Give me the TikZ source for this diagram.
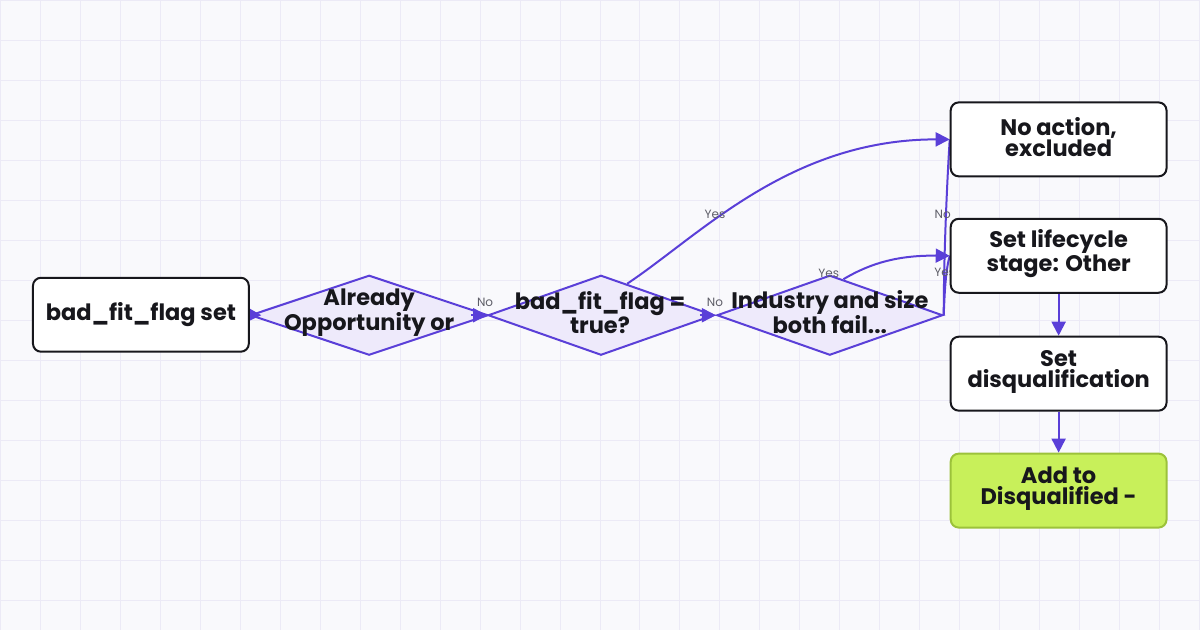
\documentclass[tikz,border=0pt]{standalone}
\usepackage{fontspec}
\setmainfont{Poppins}
\usetikzlibrary{shapes.geometric,arrows.meta,calc}
\definecolor{bgc}{HTML}{F9F9FC}
\definecolor{gridc}{HTML}{ECEAF6}
\definecolor{edgec}{HTML}{5A3FD8}
\definecolor{dfill}{HTML}{EEEAFB}
\definecolor{inkc}{HTML}{17171C}
\definecolor{greenf}{HTML}{C8F05A}
\definecolor{greend}{HTML}{9CC23A}
\definecolor{lblc}{HTML}{5E5E68}
\pgfdeclarelayer{gridlayer}
\pgfdeclarelayer{shapelayer}
\pgfdeclarelayer{edgelayer}
\pgfsetlayers{gridlayer,shapelayer,edgelayer,main}
\tikzset{
  boxnode/.style={draw=inkc, line width=2pt, fill=white, rounded corners=8pt, minimum width=216pt, minimum height=74pt, inner sep=0pt},
  greennode/.style={boxnode, draw=greend, fill=greenf},
  decnode/.style={shape=diamond, draw=edgec, fill=dfill, line width=2pt, inner sep=0pt, minimum height=80pt},
  txt/.style={font=\fontsize{22.5}{21}\selectfont\bfseries, text=inkc, align=center, inner sep=0pt},
  arr/.style={draw=edgec, line width=2pt, -{Triangle[length=14pt,width=14pt]}},
  pln/.style={draw=edgec, line width=2pt},
  elbl/.style={font=\fontsize{12}{12}\selectfont, text=lblc, inner sep=0pt},
}
\begin{document}
\begin{tikzpicture}[x=1pt,y=-1pt]
\begin{pgfonlayer}{gridlayer}
\fill[bgc] (0,0) rectangle (1200,630);
\foreach \gx in {0,40,...,1200} \draw[gridc, line width=1pt] (\gx,0) -- (\gx,630);
\foreach \gy in {0,40,...,600} \draw[gridc, line width=1pt] (0,\gy) -- (1200,\gy);
\end{pgfonlayer}
\useasboundingbox (0,0) rectangle (1200,630);

\begin{pgfonlayer}{shapelayer}
\node[decnode, minimum width=238pt] (d1) at (369,315) {};
\node[decnode, minimum width=226pt] (d2) at (601,315) {};
\node[decnode, minimum width=226pt] (d3) at (830,315) {};
\end{pgfonlayer}

\node[boxnode] (a) at (140.5,314.5) {};
\node[txt] (at) at (a.center) {bad\_fit\_flag set};
\node[boxnode] (na) at (1059,139) {};
\node[txt] (nat) at ([yshift=2pt]na.center) {No action,\\excluded};
\node[boxnode] (lc) at (1059,255.5) {};
\node[txt] (lct) at ([yshift=2pt]lc.center) {Set lifecycle\\stage: Other};
\node[boxnode] (sd) at (1059,373.5) {};
\node[txt] (sdt) at ([yshift=2pt]sd.center) {Set\\disqualification};
\node[greennode] (ad) at (1059,490.5) {};
\node[txt] (adt) at ([yshift=2pt]ad.center) {Add to\\Disqualified -};

\node[txt] (d1t) at (369,312) {Already\\Opportunity or};
\node[txt] (d2t) at (600,312) {bad\_fit\_flag =\\true?};
\node[txt] (d3t) at (830,312) {Industry and size\\both fail...};

\begin{pgfonlayer}{edgelayer}
\draw[arr] (a.east) -- ([xshift=12pt]d1.west);
\draw[arr] ([xshift=-16pt]d2.west) -- (d2.west);
\node[elbl] (l1) at (485,302) {No};
\draw[arr] ([xshift=-16pt]d3.west) -- (d3.west);
\node[elbl] (l2) at (715,302) {No};
\draw[arr] ($(d2.north)!0.23!(d2.east)$) .. controls (700,235) and (790,139) .. (na.west);
\node[elbl] (l3) at (715,214) {Yes};
\draw[arr] ($(d3.north)!0.12!(d3.east)$) .. controls (872,262) and (900,255) .. (lc.west);
\node[elbl] (l4) at (829,273) {Yes};
\draw[pln] (d3.east) .. controls (944,250) and (948,170) .. (na.west);
\node[elbl] (l5) at (943,214) {No};
\draw[pln] (d3.east) .. controls (945,290) and (946,270) .. (lc.west);
\node[elbl] (l6) at (945,272) {Yes};
\draw[arr] (lc.south) -- (sd.north);
\draw[arr] (sd.south) -- (ad.north);
\end{pgfonlayer}
\end{tikzpicture}
\end{document}
